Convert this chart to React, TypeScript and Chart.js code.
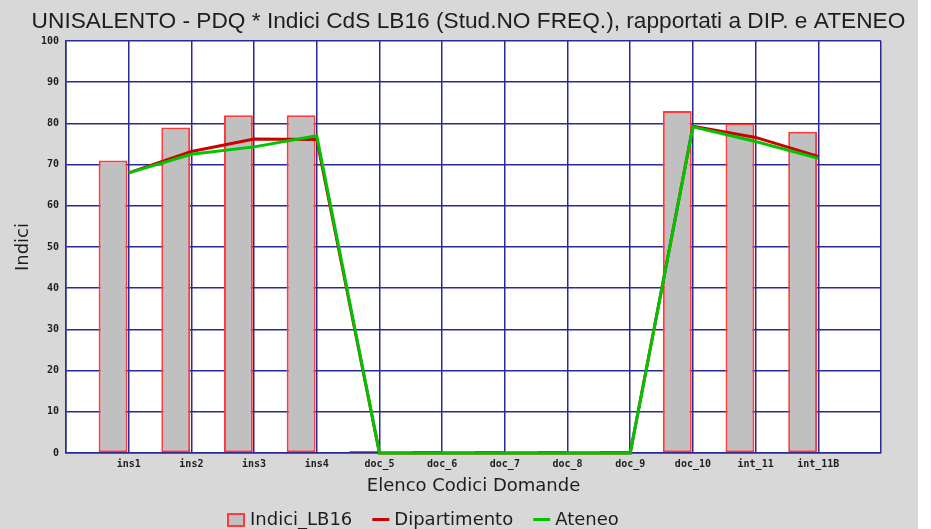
import { useEffect, useRef } from 'react';
import { Chart, registerables } from 'chart.js';

Chart.register(...registerables);

const categories = ['ins1', 'ins2', 'ins3', 'ins4', 'doc_5', 'doc_6', 'doc_7', 'doc_8', 'doc_9', 'doc_10', 'int_11', 'int_11B'];
const indiciLB16 = [71, 79, 82, 82, 0, 0, 0, 0, 0, 83, 80, 78];
const dipartimento = [68, 73.2, 76.2, 76.1, 0, 0, 0, 0, 0, 79.3, 76.6, 72];
const ateneo = [68, 72.5, 74.3, 77, 0, 0, 0, 0, 0, 79.2, 75.6, 71.5];
const yMin = 0;
const yMax = 100;
const yStep = 10;

const TITLE = 'UNISALENTO - PDQ * Indici CdS LB16 (Stud.NO FREQ.), rapportati a DIP. e ATENEO';
const GRID = '#2a2a96';
const BAR_FILL = '#c0c0c0';
const BAR_BORDER = '#ff3a3a';
const RED = '#cc0000';
const GREEN = '#00c400';
const TEXT = '#1e1e1e';

const decorPlugin = {
  id: 'decor',
  beforeDraw(chart: any) {
    const { ctx, width, height, chartArea } = chart;
    ctx.save();
    ctx.fillStyle = '#ffffff';
    ctx.fillRect(0, 0, width, height);
    ctx.fillStyle = '#d8d8d8';
    ctx.fillRect(0, 0, 918, height);
    ctx.fillStyle = '#ffffff';
    ctx.fillRect(chartArea.left, chartArea.top, chartArea.right - chartArea.left, chartArea.bottom - chartArea.top);
    ctx.restore();
  },
  afterDraw(chart: any) {
    const { ctx } = chart;
    ctx.save();
    // title
    ctx.fillStyle = TEXT;
    ctx.font = '22.7px "Liberation Sans", Arial, sans-serif';
    ctx.textAlign = 'center';
    ctx.textBaseline = 'middle';
    ctx.fillText(TITLE, 468.5, 22);
    // legend
    ctx.font = '18px "DejaVu Sans", sans-serif';
    ctx.textAlign = 'left';
    ctx.textBaseline = 'middle';
    const ly = 520;
    let x = 228;
    const items = [...chart.data.datasets].sort((a: any, b: any) => b.order - a.order);
    items.forEach((ds: any) => {
      if (ds.type === 'line') {
        ctx.strokeStyle = ds.borderColor;
        ctx.lineWidth = 3;
        ctx.beginPath();
        ctx.moveTo(x, ly - 0.5);
        ctx.lineTo(x + 17, ly - 0.5);
        ctx.stroke();
      } else {
        ctx.fillStyle = ds.backgroundColor;
        ctx.fillRect(x, ly - 6, 16, 12);
        ctx.strokeStyle = ds.borderColor;
        ctx.lineWidth = 2;
        ctx.strokeRect(x, ly - 6, 16, 12);
      }
      ctx.fillStyle = TEXT;
      const tx = x + 22;
      ctx.fillText(ds.label, tx, ly);
      x = tx + ctx.measureText(ds.label).width + 20;
    });
    ctx.restore();
  },
};

export default function App() {
  const ref = useRef<HTMLCanvasElement | null>(null);

  useEffect(() => {
    if (!ref.current) return;
    const chart = new Chart(ref.current, {
      type: 'bar',
      data: {
        datasets: [
          {
            type: 'line',
            label: 'Ateneo',
            data: ateneo.map((v, i) => ({ x: i + 1, y: v })),
            borderColor: GREEN,
            backgroundColor: GREEN,
            borderWidth: 3,
            pointRadius: 0,
            tension: 0,
            clip: 4,
            order: 0,
          } as any,
          {
            type: 'line',
            label: 'Dipartimento',
            data: dipartimento.map((v, i) => ({ x: i + 1, y: v })),
            borderColor: RED,
            backgroundColor: RED,
            borderWidth: 3,
            pointRadius: 0,
            tension: 0,
            clip: 4,
            order: 1,
          } as any,
          {
            type: 'bar',
            label: 'Indici_LB16',
            data: indiciLB16.map((v, i) => ({ x: i + 1 - 0.25, y: v })),
            backgroundColor: BAR_FILL,
            borderColor: BAR_BORDER,
            borderWidth: 2,
            borderSkipped: false,
            minBarLength: 2,
            barPercentage: 0.46,
            categoryPercentage: 1,
            order: 2,
          } as any,
        ],
      },
      options: {
        animation: false,
        responsive: false,
        events: [],
        layout: { padding: { top: 41, right: 50, bottom: 31, left: 0 } },
        plugins: {
          legend: { display: false },
          title: { display: false },
          tooltip: { enabled: false },
        },
        scales: {
          x: {
            type: 'linear',
            min: 0,
            max: categories.length + 1,
            offset: false,
            afterFit: (s: any) => { s.height = 45; },
            grid: { color: GRID, lineWidth: 1.5, drawTicks: false, offset: false },
            border: { color: GRID, width: 1.5 },
            ticks: {
              stepSize: 1,
              autoSkip: false,
              maxRotation: 0,
              padding: 5,
              color: TEXT,
              font: { family: '"DejaVu Sans Mono", monospace', size: 10, weight: 'bold' },
              callback: (v: any) => categories[Number(v) - 1] ?? '',
            },
            title: {
              display: true,
              text: 'Elenco Codici Domande',
              color: TEXT,
              font: { family: '"DejaVu Sans", sans-serif', size: 18 },
              padding: { top: 0, bottom: 1 },
            },
          },
          y: {
            type: 'linear',
            min: yMin,
            max: yMax,
            afterFit: (s: any) => { s.width = 66; },
            grid: { color: GRID, lineWidth: 1.5, drawTicks: false },
            border: { color: GRID, width: 1.5 },
            ticks: {
              stepSize: yStep,
              padding: 7,
              color: TEXT,
              font: { family: '"DejaVu Sans Mono", monospace', size: 10, weight: 'bold' },
            },
            title: {
              display: true,
              text: 'Indici',
              color: TEXT,
              font: { family: '"DejaVu Sans", sans-serif', size: 18 },
              padding: { top: 13, bottom: 0 },
            },
          },
        },
      } as any,
      plugins: [decorPlugin],
    });
    return () => chart.destroy();
  }, []);

  return (
    <div style={{ position: 'fixed', left: 0, top: 0, width: 931, height: 529 }}>
      <canvas ref={ref} width={931} height={529} />
    </div>
  );
}
